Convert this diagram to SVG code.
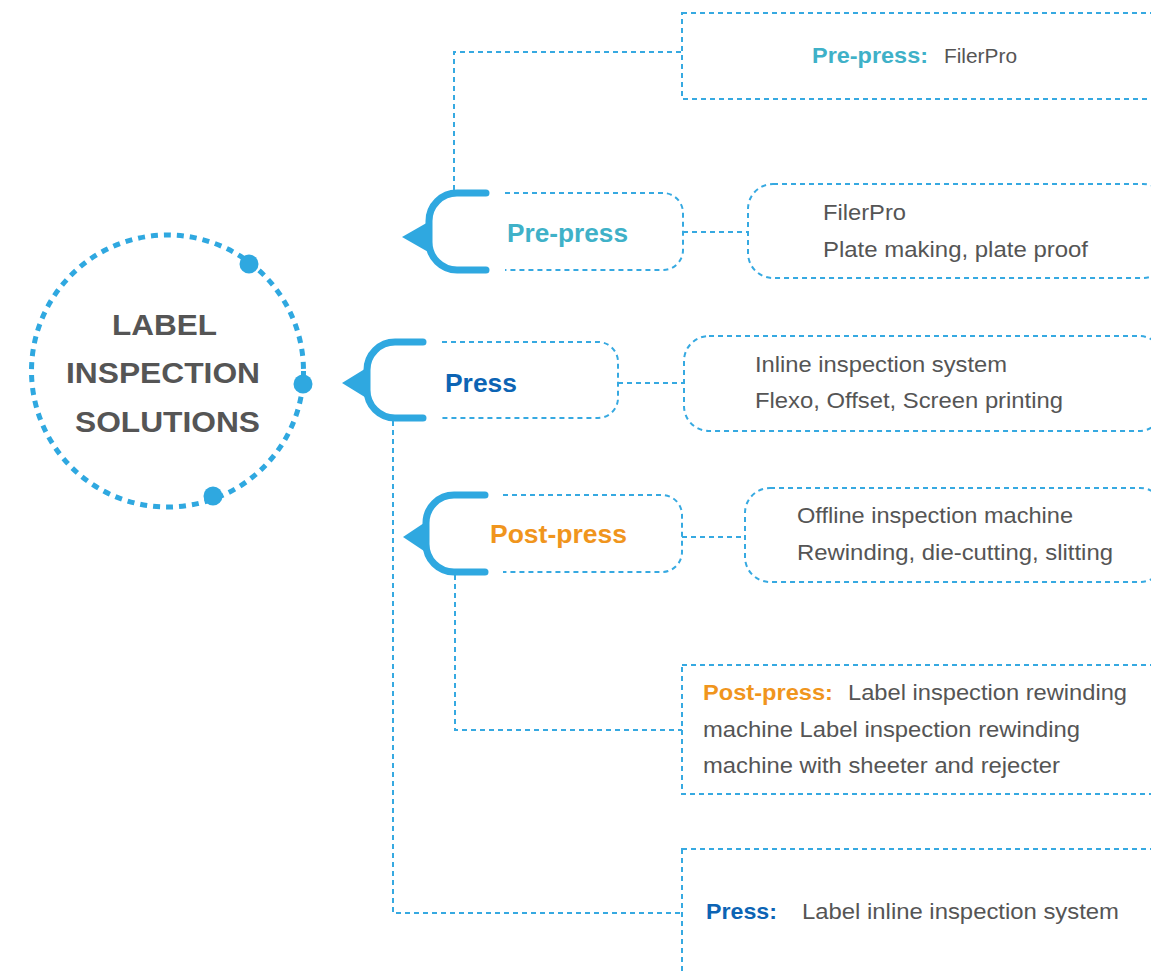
<svg xmlns="http://www.w3.org/2000/svg" width="1151" height="973" viewBox="0 0 1151 973">
<style>
.dash{fill:none;stroke:#36a9e1;stroke-width:2;stroke-dasharray:5 4}
.br{fill:none;stroke:#2fa8e0;stroke-width:7;stroke-linecap:round}
.tri{fill:#2fa8e0}
.t{font-family:"Liberation Sans",Arial,sans-serif;fill:#555555}
.b{font-weight:bold}
.teal{fill:#3fb1c8}
.blue{fill:#0c64b4}
.org{fill:#f0951d}
</style>
<rect width="1151" height="973" fill="#ffffff"/>
<g id="connectors">
<path class="dash" d="M454,190 V52 H682"/>
<path class="dash" d="M393,421 V913 H682"/>
<path class="dash" d="M455,575 V730 H682"/>
<path class="dash" d="M683,232 H748"/>
<path class="dash" d="M618,383 H684"/>
<path class="dash" d="M682,537 H745"/>
</g>
<g id="center">
<circle cx="167.5" cy="371" r="136" fill="none" stroke="#2fa8e0" stroke-width="5" stroke-dasharray="7 6"/>
<circle cx="249" cy="264" r="9.5" fill="#2fa8e0"/>
<circle cx="303" cy="384" r="9.5" fill="#2fa8e0"/>
<circle cx="213" cy="496" r="9.5" fill="#2fa8e0"/>
<text class="t b" font-size="29" x="112" y="335" textLength="105" lengthAdjust="spacingAndGlyphs">LABEL</text>
<text class="t b" font-size="29" x="66" y="383" textLength="194" lengthAdjust="spacingAndGlyphs">INSPECTION</text>
<text class="t b" font-size="29" x="75" y="432" textLength="185" lengthAdjust="spacingAndGlyphs">SOLUTIONS</text>
</g>
<g id="prepress">
<path class="br" d="M486,193 H457 A28,28 0 0 0 429,221 V242 A28,28 0 0 0 457,270 H486"/>
<polygon class="tri" points="402,237 430,221 430,253"/>
<path class="dash" d="M505,193 H663 A20,20 0 0 1 683,213 V250 A20,20 0 0 1 663,270 H505"/>
<text class="t b teal" font-size="25" x="507" y="242" textLength="121" lengthAdjust="spacingAndGlyphs">Pre-press</text>
</g>
<g id="press">
<path class="br" d="M423,342 H395 A28,28 0 0 0 367,370 V390 A28,28 0 0 0 395,418 H423"/>
<polygon class="tri" points="342,383 368,367 368,399"/>
<path class="dash" d="M442,342 H598 A20,20 0 0 1 618,362 V398 A20,20 0 0 1 598,418 H442"/>
<text class="t b blue" font-size="25" x="445" y="392" textLength="72" lengthAdjust="spacingAndGlyphs">Press</text>
</g>
<g id="postpress">
<path class="br" d="M485,495 H454 A28,28 0 0 0 426,523 V544 A28,28 0 0 0 454,572 H485"/>
<polygon class="tri" points="403,537 427,521 427,553"/>
<path class="dash" d="M503,495 H662 A20,20 0 0 1 682,515 V552 A20,20 0 0 1 662,572 H503"/>
<text class="t b org" font-size="25" x="490" y="543" textLength="137" lengthAdjust="spacingAndGlyphs">Post-press</text>
</g>
<g id="prepress-detail">
<rect class="dash" x="748" y="184" width="420" height="94" rx="25"/>
<text class="t" font-size="22" x="823" y="220" textLength="83" lengthAdjust="spacingAndGlyphs">FilerPro</text>
<text class="t" font-size="22" x="823" y="257" textLength="265" lengthAdjust="spacingAndGlyphs">Plate making, plate proof</text>
</g>
<g id="press-detail">
<rect class="dash" x="684" y="336" width="480" height="95" rx="25"/>
<text class="t" font-size="22" x="755" y="372" textLength="252" lengthAdjust="spacingAndGlyphs">Inline inspection system</text>
<text class="t" font-size="22" x="755" y="408" textLength="308" lengthAdjust="spacingAndGlyphs">Flexo, Offset, Screen printing</text>
</g>
<g id="postpress-detail">
<rect class="dash" x="745" y="488" width="420" height="94" rx="25"/>
<text class="t" font-size="22" x="797" y="523" textLength="276" lengthAdjust="spacingAndGlyphs">Offline inspection machine</text>
<text class="t" font-size="22" x="797" y="560" textLength="316" lengthAdjust="spacingAndGlyphs">Rewinding, die-cutting, slitting</text>
</g>
<g id="top-prepress">
<rect class="dash" x="682" y="13" width="500" height="86"/>
<text class="t b teal" font-size="22" x="812" y="63" textLength="116" lengthAdjust="spacingAndGlyphs">Pre-press:</text>
<text class="t" font-size="20" x="944" y="63" textLength="73" lengthAdjust="spacingAndGlyphs">FilerPro</text>
</g>
<g id="bottom-postpress">
<rect class="dash" x="682" y="665" width="500" height="129"/>
<text class="t b org" font-size="22" x="703" y="700" textLength="130" lengthAdjust="spacingAndGlyphs">Post-press:</text>
<text class="t" font-size="22" x="848" y="700" textLength="279" lengthAdjust="spacingAndGlyphs">Label inspection rewinding</text>
<text class="t" font-size="22" x="703" y="737" textLength="377" lengthAdjust="spacingAndGlyphs">machine Label inspection rewinding</text>
<text class="t" font-size="22" x="703" y="773" textLength="357" lengthAdjust="spacingAndGlyphs">machine with sheeter and rejecter</text>
</g>
<g id="bottom-press">
<rect class="dash" x="682" y="849" width="500" height="200"/>
<text class="t b blue" font-size="22" x="706" y="919" textLength="71" lengthAdjust="spacingAndGlyphs">Press:</text>
<text class="t" font-size="22" x="802" y="919" textLength="317" lengthAdjust="spacingAndGlyphs">Label inline inspection system</text>
</g>
</svg>
